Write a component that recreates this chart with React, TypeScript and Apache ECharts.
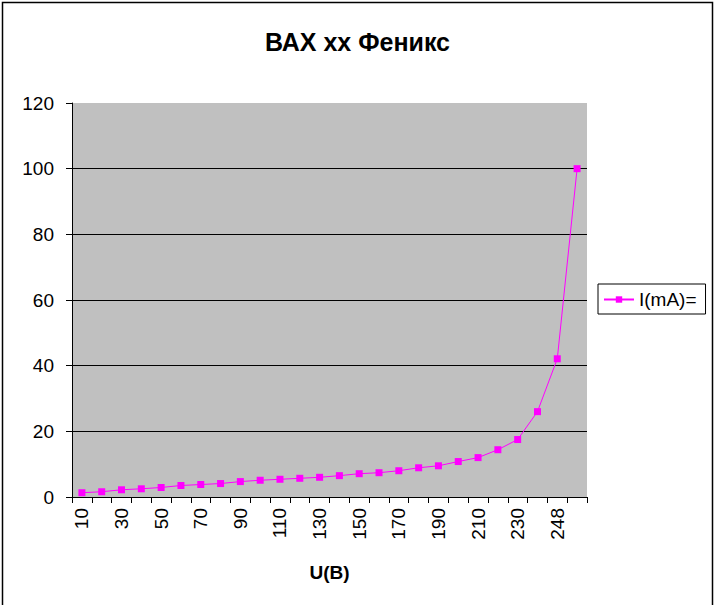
import React, { useEffect, useRef } from "react";
import * as echarts from "echarts";

const categories = ["10","20","30","40","50","60","70","80","90","100","110","120","130","140","150","160","170","180","190","200","210","220","230","240","248","250"];
const currentMA = [1.3,1.6,2.2,2.5,2.9,3.5,3.8,4.1,4.7,5.1,5.4,5.7,6.0,6.5,7.1,7.4,8.0,8.9,9.5,10.8,12.0,14.4,17.5,26.0,42.1,100];
const seriesName = "I(mA)=";
const titleText = "ВАХ хх Феникс";
const xName = "U(В)";

export default function App() {
  const ref = useRef<HTMLDivElement>(null);
  useEffect(() => {
    document.body.style.margin = "0";
    const chart = echarts.init(ref.current!, null, { renderer: "svg" });
    const font = "Liberation Sans, Arial, sans-serif";
    chart.setOption({
      animation: false,
      backgroundColor: "#ffffff",
      title: {
        text: titleText,
        left: "center",
        top: 24,
        textStyle: { fontFamily: font, fontSize: 25, fontWeight: "bold", color: "#000" },
      },
      legend: {
        left: 598,
        top: 284,
        orient: "vertical",
        borderColor: "#000",
        borderWidth: 1,
        padding: [6, 9, 5, 5],
        itemWidth: 30,
        itemHeight: 8,
        itemGap: 0,
        textStyle: { fontFamily: font, fontSize: 19, color: "#000" },
        data: [seriesName],
      },
      grid: {
        left: 72,
        top: 103,
        right: 128,
        bottom: 108,
        show: true,
        backgroundColor: "#C0C0C0",
        borderWidth: 0,
      },
      xAxis: {
        type: "category",
        data: categories,
        boundaryGap: true,
        name: xName,
        nameLocation: "middle",
        nameGap: 66,
        nameTextStyle: { fontFamily: font, fontSize: 19, fontWeight: "bold", color: "#000" },
        axisLine: { lineStyle: { color: "#000", width: 1 } },
        axisTick: { show: true, interval: 0, length: 6, lineStyle: { color: "#000" } },
        axisLabel: {
          interval: 1,
          rotate: 90,
          margin: 11,
          fontFamily: font,
          fontSize: 19,
          color: "#000",
        },
        splitLine: { show: false },
      },
      yAxis: {
        type: "value",
        min: 0,
        max: 120,
        interval: 20,
        axisLine: { show: true, lineStyle: { color: "#000", width: 1 } },
        axisTick: { show: true, length: 6, lineStyle: { color: "#000" } },
        axisLabel: { fontFamily: font, fontSize: 19, color: "#000", margin: 18 },
        splitLine: {
          show: true,
          lineStyle: {
            color: ["#000", "#000", "#000", "#000", "#000", "#000", "#C0C0C0"],
            width: 1,
          },
        },
      },
      series: [
        {
          name: seriesName,
          type: "line",
          data: currentMA,
          symbol: "rect",
          symbolSize: 7,
          showSymbol: true,
          lineStyle: { color: "#FF00FF", width: 1 },
          itemStyle: { color: "#FF00FF" },
        },
      ],
      graphic: [
        {
          type: "rect",
          shape: { x: 2.5, y: 2.5, width: 710, height: 620 },
          style: { fill: "none", stroke: "#000", lineWidth: 1.5 },
          silent: true,
        },
      ],
    });
    return () => chart.dispose();
  }, []);
  return <div ref={ref} style={{ width: 715, height: 605 }} />;
}
